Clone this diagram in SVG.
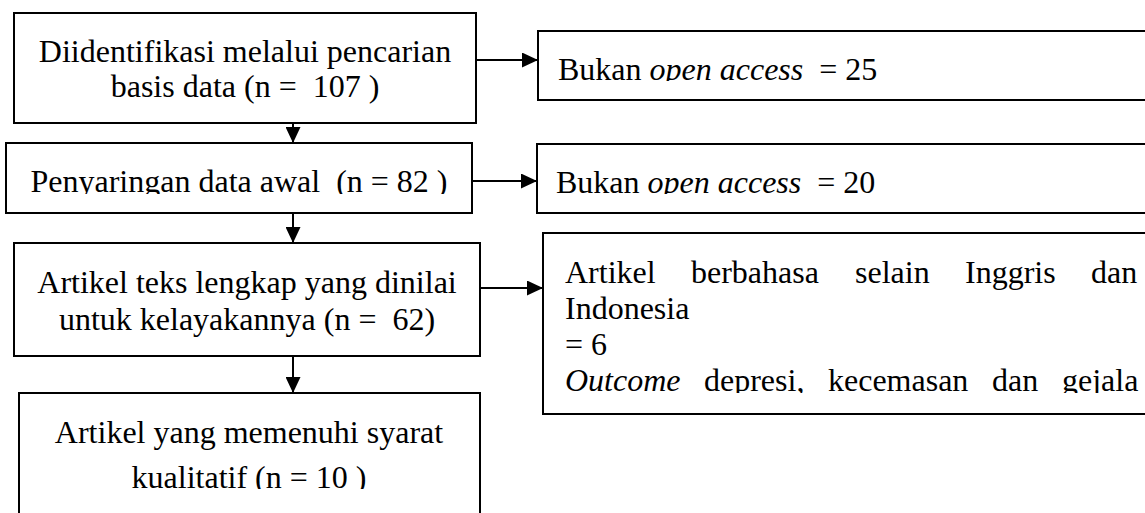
<svg xmlns="http://www.w3.org/2000/svg" width="1145" height="513" viewBox="0 0 1145 513">
<style>
.box{fill:#fff;stroke:#000;stroke-width:2}
.t{font-family:"Liberation Serif","Times New Roman",serif;font-size:32px;fill:#000;white-space:pre}
.c{text-anchor:middle}
.i{font-style:italic}
.conn{stroke:#000;stroke-width:2;fill:none}
</style>
<defs>
<marker id="ah" markerUnits="userSpaceOnUse" markerWidth="16" markerHeight="15" refX="16" refY="7.5" orient="auto">
<path d="M0,0 L16,7.5 L0,15 z" fill="#000"/>
</marker>
<clipPath id="c2"><rect x="538" y="31" width="620" height="50"/></clipPath>
<clipPath id="c3"><rect x="6" y="143" width="466" height="51"/></clipPath>
<clipPath id="c4"><rect x="537" y="144" width="620" height="50"/></clipPath>
<clipPath id="c6"><rect x="543" y="233" width="620" height="160"/></clipPath>
<clipPath id="c7"><rect x="19" y="393" width="461" height="96"/></clipPath>
</defs>

<g id="connectors">
<line class="conn" x1="476" y1="60" x2="538" y2="60" marker-end="url(#ah)"/>
<line class="conn" x1="293" y1="123" x2="293" y2="143" marker-end="url(#ah)"/>
<line class="conn" x1="472" y1="181" x2="537" y2="181" marker-end="url(#ah)"/>
<line class="conn" x1="293" y1="203" x2="293" y2="243" marker-end="url(#ah)"/>
<line class="conn" x1="480" y1="288" x2="543" y2="288" marker-end="url(#ah)"/>
<line class="conn" x1="293" y1="342" x2="293" y2="393" marker-end="url(#ah)"/>
</g>

<g id="node1">
<rect class="box" x="14" y="13" width="462" height="110"/>
<text class="t c" x="245" y="62">Diidentifikasi melalui pencarian</text>
<text class="t c" x="245" y="97">basis data (n =  107 )</text>
</g>

<g id="node2">
<rect class="box" x="538" y="31" width="620" height="69"/>
<text class="t" x="558" y="80" clip-path="url(#c2)">Bukan <tspan class="i">open access</tspan>  = 25</text>
</g>

<g id="node3">
<rect class="box" x="6" y="143" width="466" height="70"/>
<text class="t c" x="239" y="192" clip-path="url(#c3)">Penyaringan data awal  (n = 82 )</text>
</g>

<g id="node4">
<rect class="box" x="537" y="144" width="620" height="69"/>
<text class="t" x="556" y="193" clip-path="url(#c4)">Bukan <tspan class="i">open access</tspan>  = 20</text>
</g>

<g id="node5">
<rect class="box" x="14" y="243" width="466" height="113"/>
<text class="t c" x="247" y="293">Artikel teks lengkap yang dinilai</text>
<text class="t c" x="247" y="330">untuk kelayakannya (n =  62)</text>
</g>

<g id="node6">
<rect class="box" x="543" y="233" width="620" height="181"/>
<g clip-path="url(#c6)">
<text class="t" y="283"><tspan x="565">Artikel</tspan><tspan x="691">berbahasa</tspan><tspan x="855">selain</tspan><tspan x="965">Inggris</tspan><tspan x="1091">dan</tspan></text>
<text class="t" x="565" y="319">Indonesia</text>
<text class="t" x="565" y="355">= 6</text>
<text class="t" y="391"><tspan class="i" x="565">Outcome</tspan><tspan x="704">depresi,</tspan><tspan x="828">kecemasan</tspan><tspan x="992">dan</tspan><tspan x="1062">gejala</tspan></text>
</g>
</g>

<g id="node7">
<rect class="box" x="19" y="393" width="461" height="140"/>
<text class="t c" x="249" y="443">Artikel yang memenuhi syarat</text>
<text class="t c" x="249" y="488" clip-path="url(#c7)">kualitatif (n = 10 )</text>
</g>
</svg>
